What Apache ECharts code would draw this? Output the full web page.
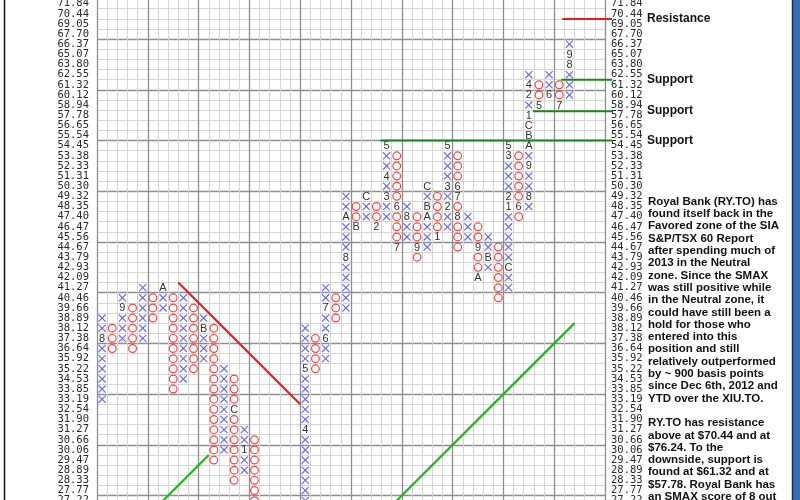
<!DOCTYPE html>
<html><head><meta charset="utf-8">
<script src="https://cdn.jsdelivr.net/npm/echarts@6/dist/echarts.min.js"></script>
<style>html,body{margin:0;padding:0;background:#fff}#c{width:800px;height:500px}</style>
</head><body><div id="c"></div>
<script>
// Price box levels (tick labels), top to bottom
const priceLevels = ['71.84','70.44','69.05','67.70','66.37','65.07','63.80','62.55','61.32','60.12','58.94','57.78','56.65','55.54','54.45','53.38','52.33','51.31','50.30','49.32','48.35','47.40','46.47','45.56','44.67','43.79','42.93','42.09','41.27','40.46','39.66','38.89','38.12','37.38','36.64','35.92','35.22','34.53','33.85','33.19','32.54','31.90','31.27','30.66','30.06','29.47','28.89','28.33','27.77','27.22'];
const columnCount = 50;
// Point & figure columns: kind, highest box, lowest box
const columnKind = ['X','O','X','O','X','O','X','O','X','O','X','O','X','O','X','O','','','','','X','O','X','O','X','O','X','O','X','O','X','O','X','O','X','O','X','O','X','O','X','O','X','O','X','O','X'];
const columnHigh = ['38.89','38.12','40.46','39.66','41.27','40.46','41.27','40.46','40.46','39.66','38.89','38.12','35.22','34.53','31.27','30.66',null,null,null,null,'38.12','37.38','41.27','40.46','49.32','48.35','49.32','48.35','54.45','53.38','48.35','47.40','50.30','49.32','54.45','53.38','47.40','46.47','45.56','44.67','54.45','53.38','62.55','61.32','62.55','61.32','66.37'];
const columnLow = ['33.19','36.64','37.38','36.64','37.38','38.89','39.66','33.85','34.53','35.22','35.92','29.47','30.06','28.33','28.89','27.22',null,null,null,null,'27.22','35.22','35.92','38.89','39.66','46.47','47.40','46.47','47.40','44.67','45.56','43.79','44.67','45.56','46.47','44.67','45.56','42.09','42.93','40.46','41.27','47.40','48.35','58.94','60.12','58.94','60.12'];
// Month markers [column, box, label]
const monthMarks = [[0,'37.38','8'],[2,'39.66','9'],[6,'41.27','A'],[10,'38.12','B'],[13,'32.54','C'],[14,'30.06','1'],[20,'31.27','4'],[20,'35.22','5'],[22,'37.38','6'],[22,'39.66','7'],[24,'43.79','8'],[24,'47.40','A'],[25,'46.47','B'],[26,'49.32','C'],[27,'46.47','2'],[28,'49.32','3'],[28,'51.31','4'],[28,'54.45','5'],[29,'48.35','6'],[29,'44.67','7'],[30,'47.40','8'],[31,'44.67','9'],[32,'47.40','A'],[32,'48.35','B'],[32,'50.30','C'],[33,'45.56','1'],[34,'48.35','2'],[34,'50.30','3'],[34,'54.45','5'],[35,'50.30','6'],[35,'49.32','7'],[35,'47.40','8'],[37,'44.67','9'],[37,'42.09','A'],[38,'43.79','B'],[40,'42.93','C'],[40,'48.35','1'],[40,'49.32','2'],[40,'53.38','3'],[40,'54.45','5'],[41,'48.35','6'],[42,'49.32','8'],[42,'52.33','9'],[42,'54.45','A'],[42,'55.54','B'],[42,'56.65','C'],[42,'57.78','1'],[42,'60.12','2'],[42,'61.32','4'],[43,'58.94','5'],[44,'60.12','6'],[45,'58.94','7'],[46,'63.80','8'],[46,'65.07','9']];
// Trend lines [fromCol, fromBox, toCol, toBox] (box/column positions)
const trendLines = [[7.5,27.5,19.5,39.5],[3.5,51.5,10.5,44.5],[26.5,51.5,46.5,31.5]];
const trendColors = ['#e31c1c','#22b422','#22b422'];
// Horizontal levels [boxPosition, startCol, label]
const levelLines = [[1.5,45.3,'Resistance'],[7.5,45.2,'Support'],[10.6,42.4,'Support'],[13.5,27.4,'Support']];
const levelColors = ['#e31c1c','#17891a','#17891a','#17891a'];
const commentary = ['Royal Bank (RY.TO) has','found itself back in the','Favored zone of the SIA','S&P/TSX 60 Report','after spending much of','2013 in the Neutral','zone. Since the SMAX','was still positive while','in the Neutral zone, it','could have still been a','hold for those who','entered into this','position and still','relatively outperformed','by ~ 900 basis points','since Dec 6th, 2012 and','YTD over the XIU.TO.','','RY.TO has resistance','above at $70.44 and at','$76.24. To the','downside, support is','found at $61.32 and at','$57.78. Royal Bank has','an SMAX score of 8 out'];

const cells = [];
columnKind.forEach((kind, c) => {
  if (!kind) return;
  const top = priceLevels.indexOf(columnHigh[c]);
  const bot = priceLevels.indexOf(columnLow[c]);
  for (let r = top; r <= bot; r++) {
    const m = monthMarks.find(mm => mm[0] === c && mm[1] === priceLevels[r]);
    cells.push({c: c, r: r, kind: kind, label: m ? m[2] : ''});
  }
});
const colCats = [];
for (let i = 0; i < columnCount; i++) colCats.push(String(i));

function renderCell(params, api) {
  const d = cells[params.dataIndex];
  const p = api.coord([api.value(0), api.value(1)]);
  const s = api.size([1, 1]);
  const h = Math.min(s[0], s[1]) * 0.35;
  if (d.label) {
    return {type: 'text', x: p[0], y: p[1] + 0.5, style: {text: d.label, fill: '#333', font: '11px "Liberation Sans", Arial', align: 'center', verticalAlign: 'middle'}};
  }
  if (d.kind === 'X') {
    return {type: 'group', children: [
      {type: 'line', shape: {x1: p[0] - h, y1: p[1] - h, x2: p[0] + h, y2: p[1] + h}, style: {stroke: '#6a6af8', lineWidth: 1.2}},
      {type: 'line', shape: {x1: p[0] + h, y1: p[1] - h, x2: p[0] - h, y2: p[1] + h}, style: {stroke: '#6a6af8', lineWidth: 1.2}}
    ]};
  }
  return {type: 'circle', shape: {cx: p[0], cy: p[1], r: h + 0.3}, style: {stroke: '#f94444', fill: 'none', lineWidth: 1.2}};
}
function renderTrend(params, api) {
  const a = api.coord([api.value(0), api.value(1)]);
  const b = api.coord([api.value(2), api.value(3)]);
  return {type: 'line', shape: {x1: a[0], y1: a[1], x2: b[0], y2: b[1]}, style: {stroke: trendColors[params.dataIndex], lineWidth: 2.2}};
}
function renderLevel(params, api) {
  const a = api.coord([api.value(1), api.value(0)]);
  const b = api.coord([columnCount - 0.5, api.value(0)]);
  return {type: 'group', children: [
    {type: 'line', shape: {x1: a[0], y1: a[1], x2: b[0] + 7, y2: b[1]}, style: {stroke: levelColors[params.dataIndex], lineWidth: 2}},
    {type: 'text', x: b[0] + 42, y: a[1], style: {text: levelLines[params.dataIndex][2], fill: '#111', font: 'bold 12px "Liberation Sans", Arial', align: 'left', verticalAlign: 'middle'}}
  ]};
}

const minorSplit = {show: true, interval: 0, lineStyle: {color: '#d6d6d6', width: 1}};
const hidden = {axisLabel: {show: false}, axisTick: {show: false}, axisLine: {show: false}};
const chart = echarts.init(document.getElementById('c'));
chart.setOption({
  animation: false,
  backgroundColor: '#fff',
  grid: {left: 97, top: -1.4, width: 508, height: 507.1, containLabel: false, outerBoundsMode: 'none'},
  xAxis: [
    Object.assign({type: 'category', data: colCats, boundaryGap: true, position: 'bottom', splitLine: minorSplit}, hidden),
    Object.assign({type: 'category', data: colCats, boundaryGap: true, position: 'top', splitLine: {show: true, interval: (i) => i % 5 === 0, lineStyle: {color: '#8e8e8e', width: 1.3}}}, hidden),
    {type: 'value', min: -0.5, max: columnCount - 0.5, show: false}
  ],
  yAxis: [
    {type: 'category', data: priceLevels, inverse: true, boundaryGap: true, position: 'left',
     axisLine: {show: false}, axisTick: {show: false},
     axisLabel: {interval: 0, margin: 8, color: '#2a2a2a', fontFamily: '"DejaVu Sans Mono", monospace', fontSize: 10.5},
     splitLine: minorSplit},
    {type: 'category', data: priceLevels, inverse: true, boundaryGap: true, position: 'right',
     axisLine: {show: false}, axisTick: {show: false},
     axisLabel: {interval: 0, margin: 6, color: '#2a2a2a', fontFamily: '"DejaVu Sans Mono", monospace', fontSize: 10.5},
     splitLine: {show: true, interval: (i) => i % 5 === 4, lineStyle: {color: '#8e8e8e', width: 1.3}}},
    {type: 'value', inverse: true, min: -0.5, max: priceLevels.length - 0.5, show: false}
  ],
  series: [
    {type: 'custom', xAxisIndex: 2, yAxisIndex: 2, silent: true, z: 3, data: cells.map(d => [d.c, d.r]), renderItem: renderCell},
    {type: 'custom', xAxisIndex: 2, yAxisIndex: 2, silent: true, z: 4, data: trendLines, renderItem: renderTrend},
    {type: 'custom', xAxisIndex: 2, yAxisIndex: 2, silent: true, z: 4, data: levelLines.map(l => [l[0], l[1]]), renderItem: renderLevel}
  ],
  graphic: [
    {type: 'line', shape: {x1: 4.5, y1: 0, x2: 4.5, y2: 500}, style: {stroke: '#111', lineWidth: 1.5}},
    {type: 'rect', shape: {x: 792, y: 0, width: 8, height: 500}, style: {fill: '#3a6cb0'}},
    {type: 'line', shape: {x1: 792.5, y1: 0, x2: 792.5, y2: 500}, style: {stroke: '#1b2f5a', lineWidth: 1.5}},
    {type: 'text', left: 648, top: 195.5, style: {text: commentary.join('\n'), font: 'bold 11.5px "Liberation Sans", Arial', fill: '#111', lineHeight: 12.3}}
  ]
});
</script></body></html>
